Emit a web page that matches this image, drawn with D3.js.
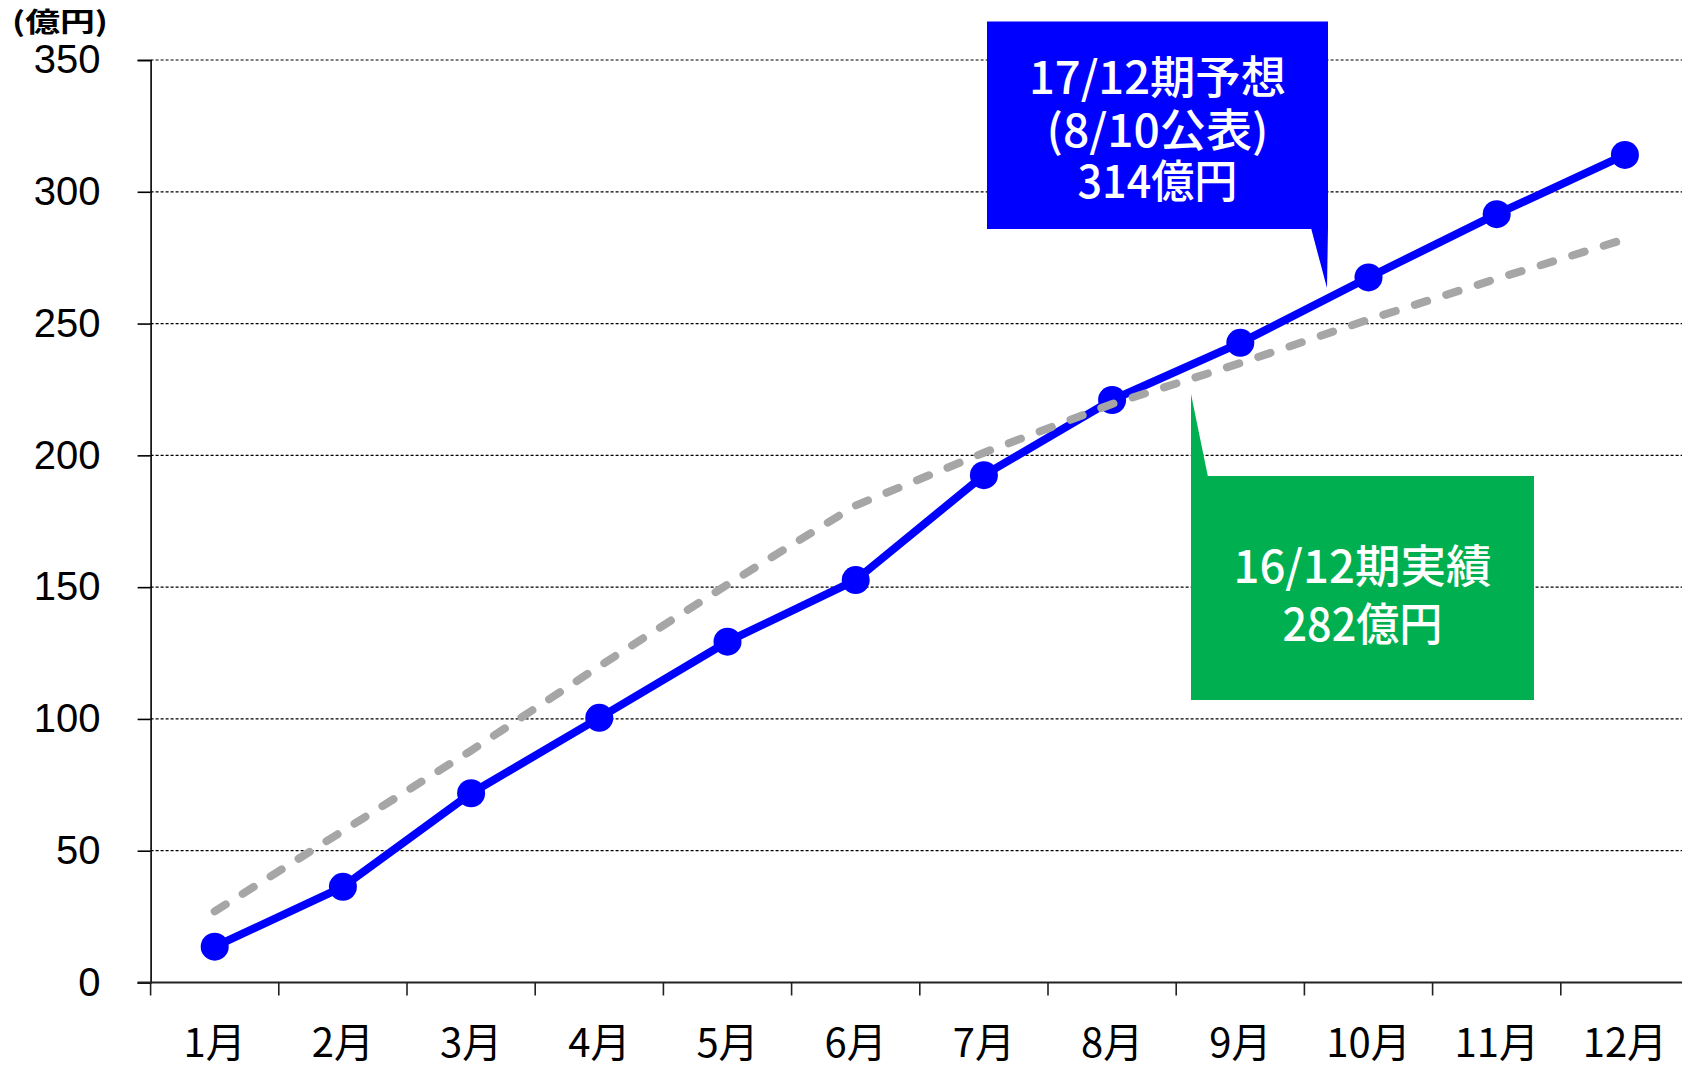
<!DOCTYPE html>
<html>
<head>
<meta charset="utf-8">
<script src="https://cdn.jsdelivr.net/npm/d3@7"></script>
<style>
body { margin: 0; background: #fff; }
svg { display: block; }
</style>
</head>
<body>
<div id="chart"></div>
<script>
// months and monthly cumulative sales (億円)
var months = ["1月","2月","3月","4月","5月","6月","7月","8月","9月","10月","11月","12月"];
var forecast17 = [13.6, 36.3, 71.8, 100.4, 129.3, 152.7, 192.5, 221, 242.7, 267.5, 291.5, 314];
var actual16 = [27, 57.5, 88, 120, 151, 181, 201, 219.5, 235, 251.5, 267, 282];
var yTicks = [0, 50, 100, 150, 200, 250, 300, 350];
var unitLabel = "(億円)";
var forecastNote = ["17/12期予想", "(8/10公表)", "314億円"];
var actualNote = ["16/12期実績", "282億円"];

var W = 1682, H = 1068;
var left = 150.6, bandW = 128.2;
var y0 = 982.5, y350 = 60;

var svg = d3.select("#chart").append("svg")
	.attr("width", W).attr("height", H);

var x = d3.scaleBand().domain(months).range([left, left + bandW * months.length]);
var y = d3.scaleLinear().domain([0, 350]).range([y0, y350]);

//gridlines (dashed) + little outside ticks on the y axis
svg.selectAll(".grid").data(yTicks.filter(function(d){ return d > 0; })).enter()
	.append("line")
	.attr("x1", left).attr("x2", W)
	.attr("y1", function(d){ return y(d); }).attr("y2", function(d){ return y(d); })
	.attr("stroke", "#000").attr("stroke-width", 1.2)
	.attr("stroke-dasharray", "3,2");

var yAxis = d3.axisLeft(y).tickValues(yTicks).tickSize(13).tickPadding(37);
var gy = svg.append("g").attr("transform", "translate(" + left + ",0)").call(yAxis);
gy.select(".domain").attr("stroke", "#000").attr("stroke-width", 1.6);
gy.selectAll(".tick line").attr("stroke", "#000").attr("stroke-width", 1.6);
gy.selectAll("text")
	.attr("font-family", "'Liberation Sans', Arial, sans-serif")
	.attr("font-size", 40).attr("fill", "#000");

//x axis: ticks on the band boundaries, labels in the middle
var xAxis = d3.axisBottom(x).tickSize(0).tickPadding(0);
var gx = svg.append("g").attr("transform", "translate(0," + y0 + ")").call(xAxis);
gx.select(".domain").remove();
gx.selectAll("text")
	.attr("dy", null).attr("y", 57)
	.attr("dominant-baseline", "central")
	.attr("font-family", "'Noto Sans CJK JP', sans-serif")
	.attr("font-size", 40).attr("fill", "#000");
svg.append("line")
	.attr("x1", left - 13).attr("x2", W)
	.attr("y1", y0).attr("y2", y0)
	.attr("stroke", "#222").attr("stroke-width", 2);
svg.selectAll(".xtick").data(months).enter()
	.append("line")
	.attr("x1", function(d){ return x(d); }).attr("x2", function(d){ return x(d); })
	.attr("y1", y0).attr("y2", y0 + 13)
	.attr("stroke", "#222").attr("stroke-width", 1.6);

svg.append("text").text(unitLabel)
	.attr("x", 12).attr("y", 20)
	.attr("dominant-baseline", "central")
	.attr("textLength", 96).attr("lengthAdjust", "spacingAndGlyphs")
	.attr("font-family", "'Noto Sans CJK JP', sans-serif")
	.attr("font-weight", 700).attr("font-size", 27).attr("fill", "#000");

var cx = function(d, i){ return x(months[i]) + x.bandwidth() / 2; };
var line = d3.line().x(cx).y(function(d){ return y(d); });

// 17/12 forecast - blue line with markers
svg.append("path").datum(forecast17)
	.attr("d", line)
	.attr("fill", "none").attr("stroke", "#0000FF")
	.attr("stroke-width", 8).attr("stroke-linejoin", "round");
svg.selectAll(".dot").data(forecast17).enter()
	.append("circle")
	.attr("cx", cx).attr("cy", function(d){ return y(d); })
	.attr("r", 14).attr("fill", "#0000FF");

// 16/12 actual - grey dashed, drawn on top
svg.append("path").datum(actual16)
	.attr("d", line)
	.attr("fill", "none").attr("stroke", "#A6A6A6")
	.attr("stroke-width", 8).attr("stroke-linecap", "round")
	.attr("stroke-dasharray", "13,20");

//callouts
function callout(box, tip, color, lines, lineY, widths){
	var g = svg.append("g");
	g.append("path")
		.attr("d", "M" + tip.base[0] + "," + tip.base[1] + "L" + tip.base[2] + "," + tip.base[3] + "L" + tip.pt[0] + "," + tip.pt[1] + "Z")
		.attr("fill", color);
	g.append("rect")
		.attr("x", box.x).attr("y", box.y).attr("width", box.w).attr("height", box.h)
		.attr("fill", color);
	g.selectAll("text").data(lines).enter()
		.append("text")
		.text(function(d){ return d; })
		.attr("x", box.x + box.w / 2)
		.attr("y", function(d, i){ return lineY[i]; })
		.attr("text-anchor", "middle")
		.attr("dominant-baseline", "central")
		.attr("textLength", function(d, i){ return widths[i]; })
		.attr("lengthAdjust", "spacingAndGlyphs")
		.attr("font-family", "'Noto Sans CJK JP', sans-serif")
		.attr("font-weight", 500).attr("font-size", 45).attr("fill", "#fff");
}

callout({x: 987, y: 21.5, w: 341, h: 207.5},
	{base: [1311, 228, 1328, 228], pt: [1327, 288]},
	"#0000FF", forecastNote, [74, 127, 178], [257, 222, 160]);

callout({x: 1191, y: 476, w: 343, h: 224},
	{base: [1191, 477, 1208, 477], pt: [1191, 394]},
	"#00B050", actualNote, [563, 621], [258, 160]);
</script>
</body>
</html>
